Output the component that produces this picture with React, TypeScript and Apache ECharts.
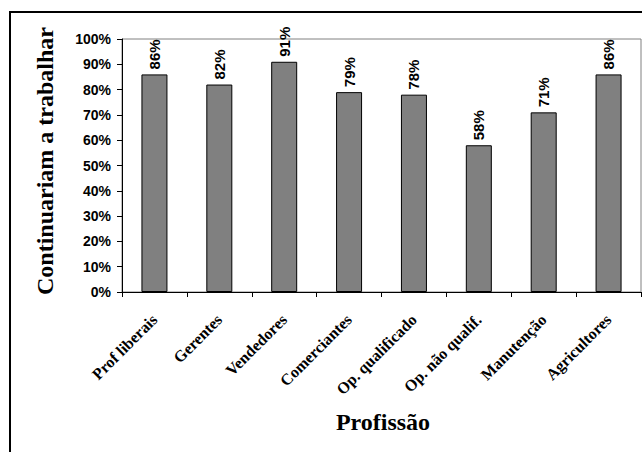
import React, { useEffect, useRef } from "react";
import * as echarts from "echarts";

// Share of respondents who would keep working, by occupation (%)
const categories = [
  "Prof liberais",
  "Gerentes",
  "Vendedores",
  "Comerciantes",
  "Op. qualificado",
  "Op. não qualif.",
  "Manutenção",
  "Agricultores",
];
const shares = [86, 82, 91, 79, 78, 58, 71, 86];

const yMin = 0;
const yMax = 100;
const yStep = 10;

const yTitle = "Continuariam a trabalhar";
const xTitle = "Profissão";

const SANS = 'Arial, "Liberation Sans", sans-serif';
const SERIF = '"Times New Roman", "Liberation Serif", serif';

export default function App() {
  const ref = useRef<HTMLDivElement>(null);

  useEffect(() => {
    if (!ref.current) return;
    const chart = echarts.init(ref.current, null, { renderer: "svg" });
    chart.setOption({
      animation: false,
      backgroundColor: "#ffffff",
      grid: {
        left: 122,
        right: 1,
        top: 39,
        bottom: 160,
        show: true,
        borderColor: "#808080",
        borderWidth: 1,
        containLabel: false,
        outerBoundsMode: "none",
      },
      xAxis: {
        type: "category",
        data: categories,
        axisLine: { show: true, lineStyle: { color: "#000", width: 1 } },
        axisTick: { show: true, length: 5, lineStyle: { color: "#000", width: 1 } },
        axisLabel: {
          interval: 0,
          rotate: 45,
          margin: 25,
          color: "#000",
          fontFamily: SERIF,
          fontWeight: "bold",
          fontSize: 16,
          hideOverlap: false,
        },
        splitLine: { show: false },
      },
      yAxis: {
        type: "value",
        min: yMin,
        max: yMax,
        interval: yStep,
        axisLine: { show: true, lineStyle: { color: "#000", width: 1 } },
        axisTick: { show: true, length: 5, lineStyle: { color: "#000", width: 1 } },
        axisLabel: {
          formatter: "{value}%",
          margin: 11,
          color: "#000",
          fontFamily: SANS,
          fontWeight: "bold",
          fontSize: 14,
        },
        splitLine: { show: false },
      },
      series: [
        {
          type: "bar",
          data: shares,
          barWidth: 26,
          itemStyle: { color: "#808080", borderColor: "#000", borderWidth: 1 },
          label: {
            show: true,
            position: "top",
            rotate: 90,
            align: "left",
            verticalAlign: "middle",
            distance: 5,
            formatter: "{c}%",
            color: "#000",
            fontFamily: SANS,
            fontWeight: "bold",
            fontSize: 15,
          },
        },
      ],
      graphic: [
        {
          type: "rect",
          shape: { x: 10, y: 12, width: 700, height: 600 },
          style: { fill: "none", stroke: "#000", lineWidth: 2 },
          silent: true,
        },
        {
          type: "text",
          x: 45,
          y: 161,
          rotation: Math.PI / 2,
          style: {
            text: yTitle,
            align: "center",
            verticalAlign: "middle",
            fill: "#000",
            font: `bold 24px ${SERIF}`,
          },
        },
        {
          type: "text",
          x: 383,
          y: 422,
          style: {
            text: xTitle,
            align: "center",
            verticalAlign: "middle",
            fill: "#000",
            font: `bold 24px ${SERIF}`,
          },
        },
      ],
    });
    return () => chart.dispose();
  }, []);

  return (
    <div
      ref={ref}
      style={{ position: "fixed", left: 0, top: 0, width: 642, height: 452, background: "#fff" }}
    />
  );
}
